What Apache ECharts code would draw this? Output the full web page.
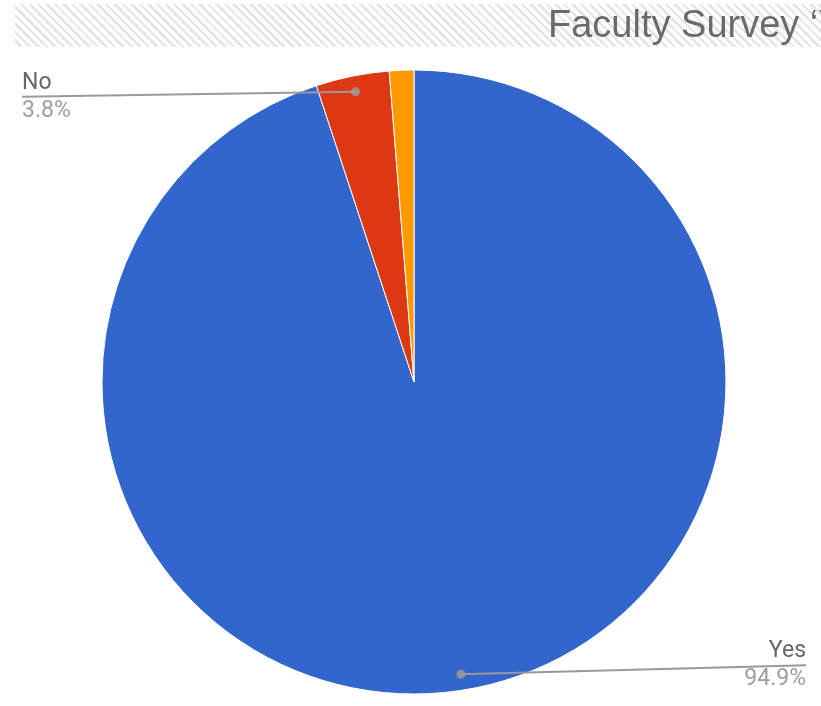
<!DOCTYPE html>
<html>
<head>
<meta charset="utf-8">
<script src="https://cdn.jsdelivr.net/npm/echarts@6/dist/echarts.min.js"></script>
<style>
  html, body { margin: 0; padding: 0; background: #fff; }
  #wrap { position: relative; width: 821px; height: 706px; overflow: hidden; }
  #hatch { position: absolute; left: 15px; top: 4px; width: 806px; height: 43px;
    background: repeating-linear-gradient(45deg, #ffffff 0px, #ffffff 3.5px, #e6e6e6 3.5px, #e6e6e6 6px); }
  #chart { position: absolute; left: 0; top: 0; width: 821px; height: 706px; }
</style>
</head>
<body>
<div id="wrap">
  <div id="hatch"></div>
  <div id="chart"></div>
</div>
<script>
// ---- data ----
const categories = ['Yes', 'No', 'Other'];
const counts = [75, 3, 1];
const colors = ['#3366cc', '#dc3912', '#ff9900'];
const showLabel = [true, true, false];
const titleText = 'Faculty Survey \u2018Yes/No\u2019';

// ---- layout ----
const CX = 414, CY = 382, R = 312, R_DOT = 296;
const total = counts.reduce((a, b) => a + b, 0);

const chart = echarts.init(document.getElementById('chart'), null, { renderer: 'canvas' });

const mainData = categories.map((c, i) => ({ name: c, value: counts[i], itemStyle: { color: colors[i] } }));
const labelData = categories.map((c, i) => ({
  name: c, value: counts[i],
  label: { show: showLabel[i], edgeDistance: i === 0 ? 15 : 22 },
  labelLine: { show: showLabel[i] }
}));

// dot positions: mid angle of each labelled slice (cumulative counts)
const dotData = [];
let cum = 0;
counts.forEach((v, i) => {
  if (showLabel[i]) dotData.push([R_DOT / R, cum + v / 2]);
  cum += v;
});

chart.setOption({
  backgroundColor: 'transparent',
  animation: false,
  title: {
    text: titleText,
    left: 543, top: 3,
    textStyle: { fontFamily: 'Liberation Sans', fontSize: 38, fontWeight: 'normal', color: '#6a6a6a' }
  },
  polar: { center: [CX, CY], radius: R },
  angleAxis: { type: 'value', min: 0, max: total, startAngle: 90, clockwise: true, show: false, splitLine: { show: false } },
  radiusAxis: { type: 'value', min: 0, max: 1, show: false, splitLine: { show: false } },
  series: [
    {
      type: 'pie',
      center: [CX, CY],
      radius: R,
      startAngle: 90,
      clockwise: true,
      silent: true,
      label: { show: false },
      labelLine: { show: false },
      itemStyle: { borderColor: '#ffffff', borderWidth: 1 },
      data: mainData,
      z: 1
    },
    {
      type: 'pie',
      center: [CX, CY],
      radius: R_DOT,
      startAngle: 90,
      clockwise: true,
      silent: true,
      percentPrecision: 1,
      itemStyle: { color: 'rgba(0,0,0,0)', borderWidth: 0 },
      label: {
        position: 'outside',
        alignTo: 'edge',
        formatter: '{n|{b}}\n{p|{d}%}',
        rich: {
          n: { fontFamily: 'Roboto', fontSize: 23, color: '#666666', lineHeight: 28 },
          p: { fontFamily: 'Roboto', fontSize: 23, color: '#9e9e9e', lineHeight: 28 }
        }
      },
      labelLine: { show: true, length: 0, length2: 20, lineStyle: { color: '#999999', width: 2 } },
      labelLayout: function (p) {
        const pts = p.labelLinePoints;
        if (!pts) return {};
        const r = p.labelRect;
        const left = pts[pts.length - 1][0] < pts[0][0];
        const endX = left ? r.x : r.x + r.width;
        const shift = pts[0][1] < CY ? 5 : -9;
        return { dy: shift, labelLinePoints: [pts[0], [endX, pts[pts.length - 1][1] + shift]] };
      },
      data: labelData,
      z: 3
    },
    {
      type: 'scatter',
      coordinateSystem: 'polar',
      symbol: 'circle',
      symbolSize: 9,
      silent: true,
      itemStyle: { color: '#a0a0a0' },
      data: dotData,
      z: 4
    }
  ]
});
</script>
</body>
</html>
